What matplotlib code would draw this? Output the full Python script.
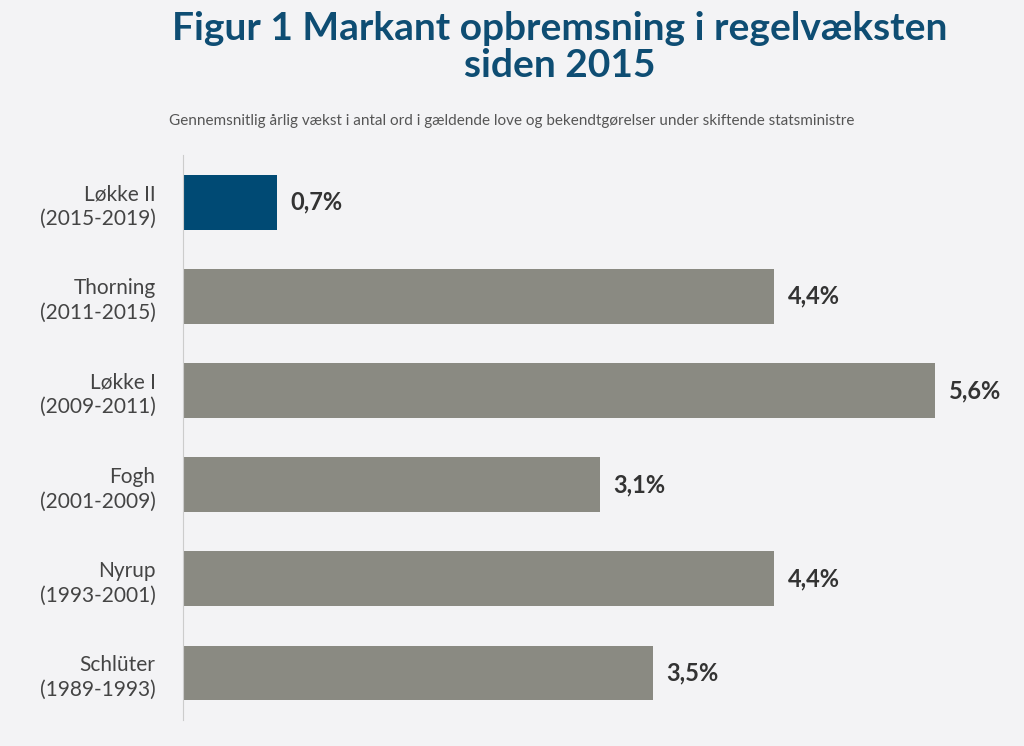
import matplotlib.pyplot as plt

plt.rcParams['font.family'] = ['Lato', 'DejaVu Sans']

ministers = ["Løkke II\n(2015-2019)", "Thorning\n(2011-2015)", "Løkke I\n(2009-2011)",
             "Fogh\n(2001-2009)", "Nyrup\n(1993-2001)", "Schlüter\n(1989-1993)"]
growth = [0.7, 4.4, 5.6, 3.1, 4.4, 3.5]
colors = ["#004a74", "#8a8a82", "#8a8a82", "#8a8a82", "#8a8a82", "#8a8a82"]

bg = "#f3f3f5"
fig = plt.figure(figsize=(10.24, 7.46), dpi=100, facecolor=bg)
ax = fig.add_axes([0.179, 0.035, 0.80, 0.757], facecolor=bg)

pos = range(len(growth))
ax.barh(pos, growth, height=0.58, color=colors)
for p, v in zip(pos, growth):
    ax.text(v + 0.1, p, f"{v:.1f}".replace(".", ",") + "%", va="center", ha="left",
            fontsize=17, fontweight="bold", color="#333333")

ax.set_ylim(5.5, -0.5)
ax.set_xlim(0, 6.1)
ax.set_yticks(list(pos))
ax.set_yticklabels(ministers, fontsize=15, color="#444444", linespacing=1.3)
ax.tick_params(axis="y", length=0, pad=20)
ax.set_xticks([])
for s in ["top", "right", "bottom"]:
    ax.spines[s].set_visible(False)
ax.spines["left"].set_color("#cccccc")

fig.text(0.547, 0.985, "Figur 1 Markant opbremsning i regelvæksten\nsiden 2015", ha="center",
         va="top", fontsize=28, fontweight="bold", color="#0e4d73", linespacing=1.05)
fig.text(0.5, 0.838, "Gennemsnitlig årlig vækst i antal ord i gældende love og bekendtgørelser under skiftende statsministre",
         ha="center", va="center", fontsize=11, color="#555555")

fig.savefig("out.png", dpi=100, facecolor=bg)
